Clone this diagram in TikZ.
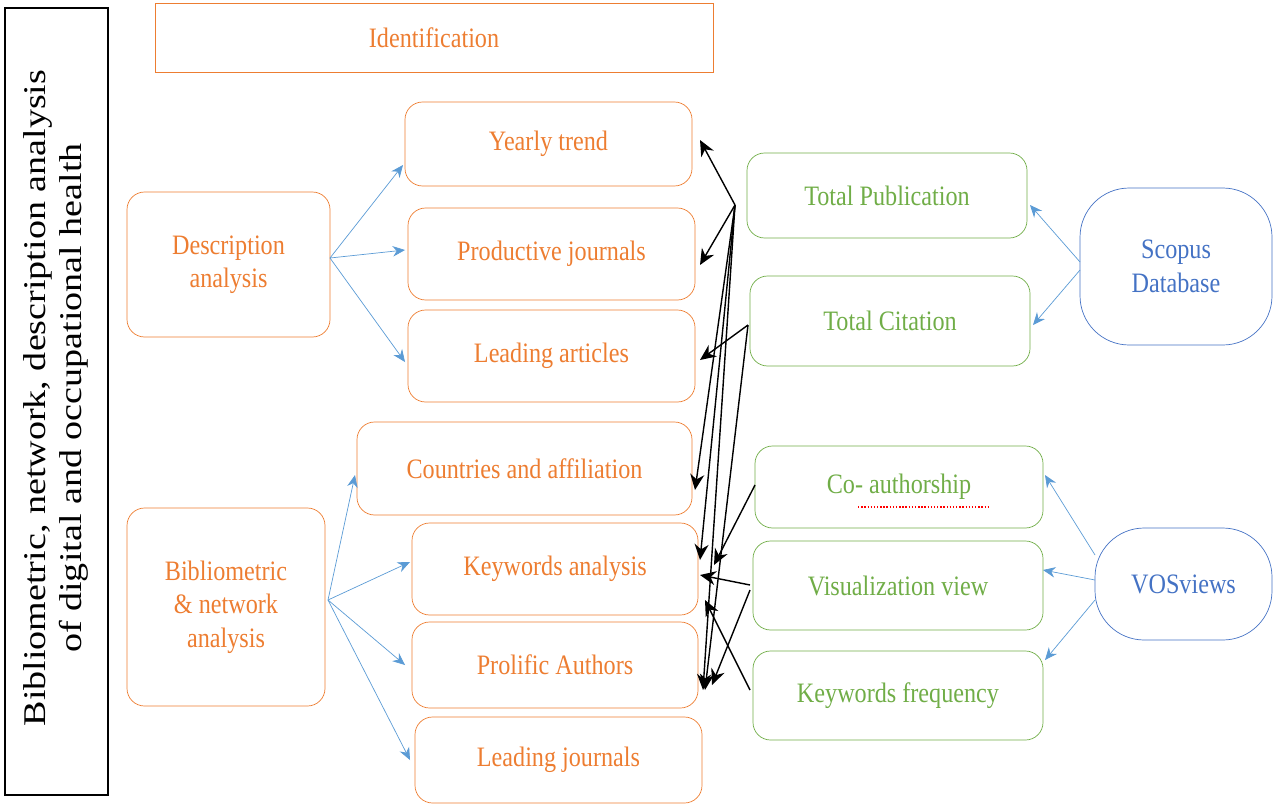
\documentclass[tikz,border=0pt]{standalone}
\usepackage{fontspec}
\setmainfont[FakeStretch=0.86]{Liberation Serif}
\usetikzlibrary{arrows.meta}
\definecolor{org}{RGB}{237,125,49}
\definecolor{grn}{RGB}{112,173,71}
\definecolor{blu}{RGB}{68,114,196}
\definecolor{arb}{RGB}{91,155,213}
\begin{document}
\begin{tikzpicture}[x=0.02cm,y=-0.02cm,
 ob/.style={draw=org,rounded corners=10pt,text=org,align=center,font=\fontsize{16}{19}\selectfont,inner sep=0pt},
 gb/.style={draw=grn,rounded corners=10pt,text=grn,align=center,font=\fontsize{16}{19}\selectfont,inner sep=0pt},
 bb/.style={draw=blu,rounded corners=28pt,text=blu,align=center,font=\fontsize{16}{19}\selectfont,inner sep=0pt},
 ba/.style={draw=arb,-{Stealth[length=7pt,width=6pt]}},
 ka/.style={draw=black,thick,-{Stealth[length=9pt,width=8pt]}}]
\useasboundingbox (0,0) rectangle (1280,808);
\def\bx#1#2#3#4#5#6#7{\path[#2] (#3,#4) rectangle (#5,#6) node[midway,#2,draw=none] (#1) {#7}; \coordinate (#1-nw) at (#3,#4);}
\draw[black,semithick] (5,8) rectangle (108,795);
\node[rotate=90,xscale=1.4,align=center,font=\fontsize{18}{20}\selectfont] (side) at (56,398) {Bibliometric, network, description analysis\\of digital and occupational health};
\draw[org] (155,3) rectangle (713,72);
\node[text=org,font=\fontsize{16}{19}\selectfont] (ident) at (434,38) {Identification};
\bx{yt}{ob}{405}{102}{692}{186}{Yearly trend}
\bx{pj}{ob}{408}{208}{695}{300}{Productive journals}
\bx{la}{ob}{408}{310}{695}{402}{Leading articles}
\bx{ca}{ob}{357}{422}{692}{515}{Countries and affiliation}
\bx{ka}{ob}{412}{523}{698}{615}{Keywords analysis}
\bx{pa}{ob}{412}{622}{698}{708}{Prolific Authors}
\bx{lj}{ob}{415}{717}{702}{803}{Leading journals}
\bx{da}{ob}{127}{192}{330}{337}{Description\\analysis}
\bx{bn}{ob}{127}{508}{325}{706}{Bibliometric\\\& network\\analysis}
\bx{tp}{gb}{747}{153}{1027}{238}{Total Publication}
\bx{tc}{gb}{750}{276}{1030}{366}{Total Citation}
\bx{co}{gb}{755}{446}{1043}{528}{Co- authorship}
\bx{vv}{gb}{753}{541}{1043}{630}{Visualization view}
\bx{kf}{gb}{753}{651}{1043}{740}{Keywords frequency}
\bx{sd}{bb}{1080}{188}{1272}{345}{Scopus\\Database}
\bx{vo}{bb}{1095}{528}{1272}{640}{VOSviews}
\draw[red,thick,densely dotted] (858,507) -- (988,507);
% blue arrows
\coordinate (d0) at (330,258); \coordinate (b0) at (328,600);
\draw[ba] (d0) -- (403,165); \draw[ba] (d0) -- (405,250); \draw[ba] (d0) -- (405,362);
\draw[ba] (b0) -- (355,475); \draw[ba] (b0) -- (410,562); \draw[ba] (b0) -- (405,665); \draw[ba] (b0) -- (410,760);
\draw[ba] (1080,262) -- (1030,205); \draw[ba] (1080,270) -- (1033,325);
\draw[ba] (1095,555) -- (1045,475); \draw[ba] (1095,580) -- (1043,570); \draw[ba] (1095,600) -- (1045,660);
% black arrows
\coordinate (s1) at (735,205); \coordinate (s2) at (748,325);
\draw[ka] (s1) -- (700,140); \draw[ka] (s1) -- (700,265); \draw[ka] (s1) -- (695,490);
\draw[ka] (s1) -- (700,560); \draw[ka] (s1) -- (703,690);
\draw[ka] (s2) -- (700,360); \draw[ka] (s2) -- (705,690);
\draw[ka] (755,485) -- (714,565);
\draw[ka] (750,585) -- (700,575);
\draw[ka] (750,590) -- (712,685);
\draw[ka] (750,690) -- (705,600);
\end{tikzpicture}
\end{document}
